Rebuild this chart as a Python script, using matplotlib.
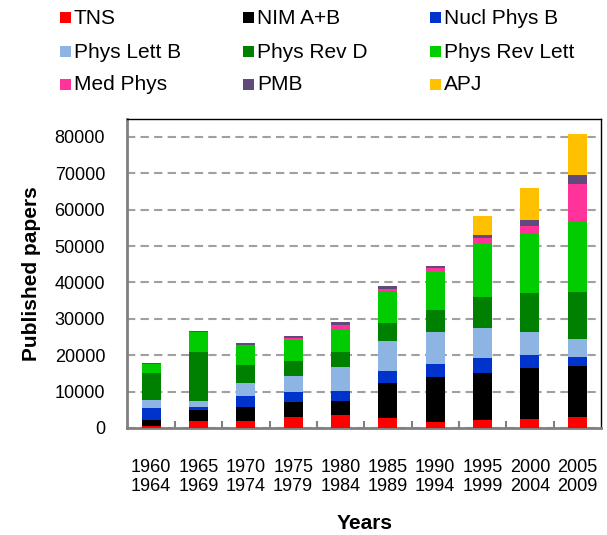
import matplotlib
matplotlib.use("Agg")
import matplotlib.pyplot as plt
from matplotlib.patches import Rectangle
import numpy as np

plt.rcParams['font.family'] = ['Liberation Sans', 'DejaVu Sans']

periods = ["1960\n1964", "1965\n1969", "1970\n1974", "1975\n1979", "1980\n1984",
           "1985\n1989", "1990\n1994", "1995\n1999", "2000\n2004", "2005\n2009"]

tns      = [500, 1900, 1900, 3100, 3600, 2700, 1600, 2200, 2600, 3000]
nim      = [1700, 3000, 4000, 4100, 3700, 9700, 12500, 13000, 14000, 14100]
nucl_b   = [3200, 900, 3000, 2600, 2900, 3300, 3500, 4100, 3400, 2300]
lett_b   = [2400, 1600, 3600, 4400, 6600, 8200, 8700, 8300, 6500, 5100]
rev_d    = [7400, 13600, 4900, 4300, 4200, 4900, 6100, 8500, 10600, 12900]
rev_lett = [2300, 5300, 5500, 5700, 6300, 8900, 10500, 14500, 16600, 19600]
med_phys = [0, 0, 0, 500, 1000, 600, 1100, 1500, 1800, 10000]
pmb      = [300, 300, 400, 600, 700, 800, 600, 900, 1800, 2500]
apj      = [0, 0, 0, 0, 0, 0, 0, 5200, 8800, 11200]

series_names = ["TNS", "NIM A+B", "Nucl Phys B", "Phys Lett B", "Phys Rev D",
                "Phys Rev Lett", "Med Phys", "PMB", "APJ"]
series_vals = [tns, nim, nucl_b, lett_b, rev_d, rev_lett, med_phys, pmb, apj]
colors = ["#FF0000", "#000000", "#0033CC", "#8EB4E3", "#008000",
          "#00CC00", "#FF3399", "#604A7B", "#FFC000"]

fig = plt.figure(figsize=(6.07, 5.35), dpi=100)
ax = fig.add_axes([0.210, 0.2, 0.780, 0.578])

x = np.arange(len(periods))
bottom = np.zeros(len(periods))
for vals, c in zip(series_vals, colors):
    v = np.array(vals, dtype=float)
    ax.bar(x, v, width=0.40, bottom=bottom, color=c, edgecolor='none', zorder=3)
    bottom += v

ax.set_xlim(-0.5, len(periods) - 0.5)
ax.set_ylim(0, 85000)
ax.set_yticks(np.arange(0, 80001, 10000))
ax.set_yticklabels([str(v) for v in range(0, 80001, 10000)], fontsize=13)
ax.set_xticks(x)
ax.set_xticklabels(periods, fontsize=13, linespacing=1.15)
ax.set_xticks(np.arange(0.5, len(periods) - 0.5, 1), minor=True)
ax.tick_params(axis='x', which='major', length=0, pad=22)
ax.tick_params(axis='x', which='minor', length=5, direction='in', color='#808080', width=1.5)
ax.tick_params(axis='y', length=0, pad=16)

ax.yaxis.grid(True, linestyle=(0, (4, 2.5)), color='#A0A0A0', linewidth=1.5, zorder=0)
ax.set_axisbelow(True)

for s in ['left', 'bottom']:
    ax.spines[s].set_color('#808080')
    ax.spines[s].set_linewidth(2)
for s in ['top', 'right']:
    ax.spines[s].set_color('#000000')
    ax.spines[s].set_linewidth(1)

ax.set_ylabel("Published papers", fontsize=15, fontweight='bold', labelpad=10)
ax.set_xlabel("Years", fontsize=15, fontweight='bold', labelpad=14)

# Legend (3 columns, row-major)
W, H = 607, 535
col_x = [60, 243, 430]
row_y = [18, 52, 85]
for i, (name, c) in enumerate(zip(series_names, colors)):
    cx = col_x[i % 3]
    cy = row_y[i // 3]
    fig.add_artist(Rectangle((cx / W, 1 - (cy + 5) / H), 11 / W, 11 / H,
                             transform=fig.transFigure, facecolor=c, edgecolor='none'))
    fig.text((cx + 14) / W, 1 - cy / H, name, fontsize=15, va='center', ha='left')

fig.savefig("out.png", dpi=100)
